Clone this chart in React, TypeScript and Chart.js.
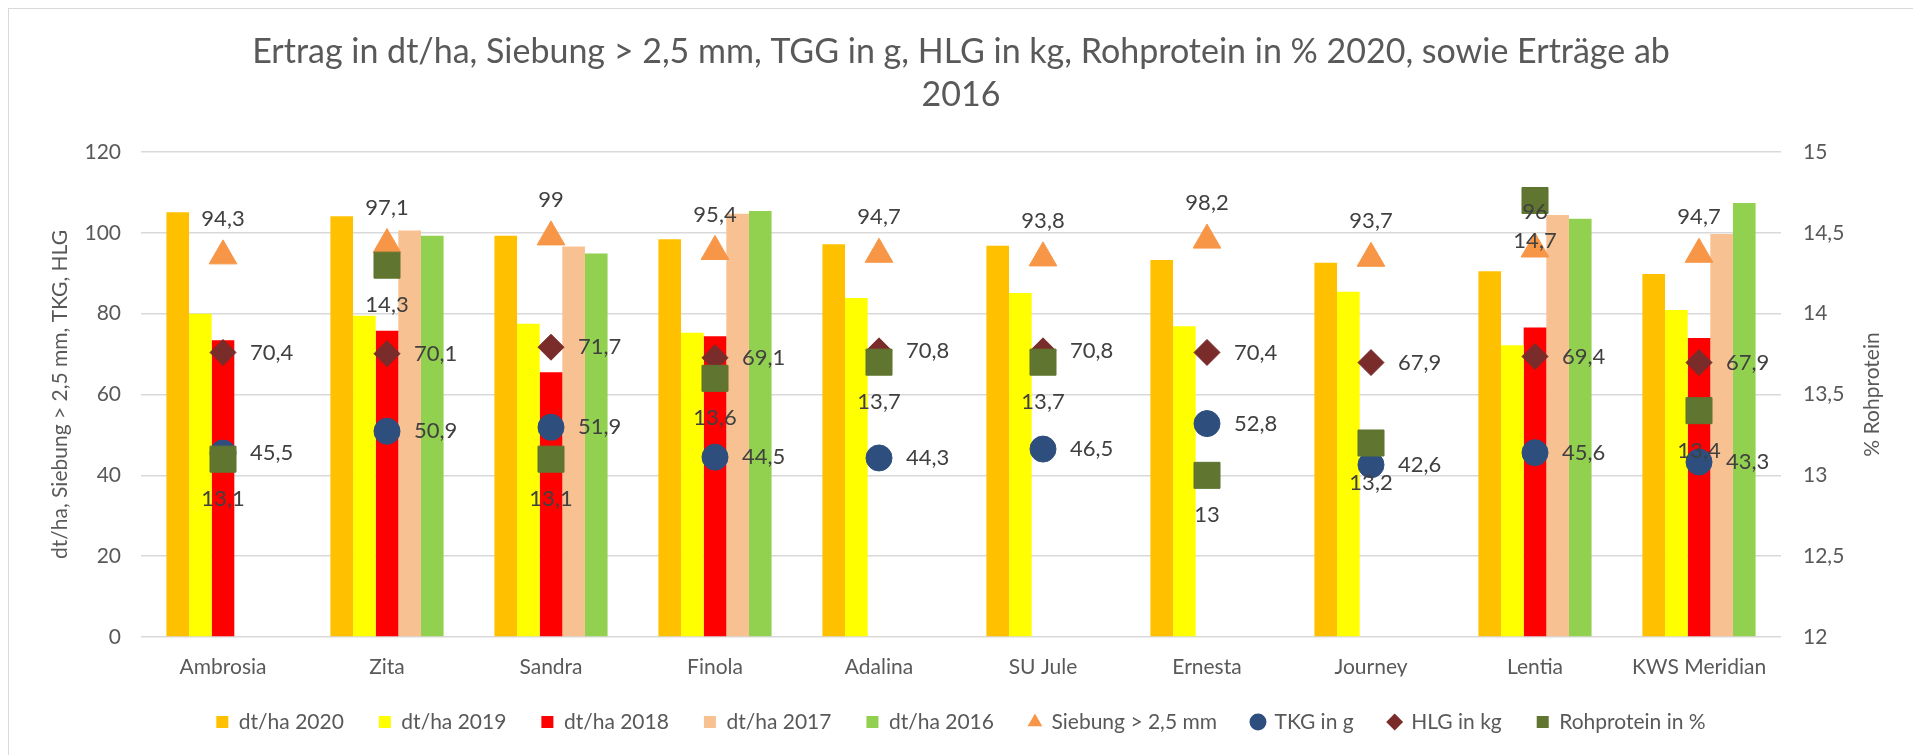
import React, { useEffect, useRef } from "react";
import { Chart, registerables } from "chart.js";

Chart.register(...registerables);

// ---------- data ----------
const categories = ["Ambrosia", "Zita", "Sandra", "Finola", "Adalina", "SU Jule", "Ernesta", "Journey", "Lentia", "KWS Meridian"];
const yield2020 = [105.1, 104.1, 99.3, 98.4, 97.2, 96.8, 93.3, 92.6, 90.5, 89.8];
const yield2019 = [80.0, 79.5, 77.5, 75.3, 83.9, 85.1, 76.9, 85.4, 72.2, 80.9];
const yield2018 = [73.4, 75.8, 65.5, 74.4, null, null, null, null, 76.6, 74.0];
const yield2017 = [null, 100.6, 96.6, 104.7, null, null, null, null, 104.4, 99.7];
const yield2016 = [null, 99.3, 94.9, 105.4, null, null, null, null, 103.5, 107.4];
const siebung = [94.3, 97.1, 99, 95.4, 94.7, 93.8, 98.2, 93.7, 96, 94.7];
const tkg = [45.5, 50.9, 51.9, 44.5, 44.3, 46.5, 52.8, 42.6, 45.6, 43.3];
const hlg = [70.4, 70.1, 71.7, 69.1, 70.8, 70.8, 70.4, 67.9, 69.4, 67.9];
const rohprotein = [13.1, 14.3, 13.1, 13.6, 13.7, 13.7, 13.0, 13.2, 14.7, 13.4];

const titleLines = ["Ertrag in dt/ha, Siebung > 2,5 mm, TGG in g, HLG in kg, Rohprotein in % 2020, sowie Erträge ab", "2016"];
const leftAxisTitle = "dt/ha, Siebung > 2,5 mm, TKG, HLG";
const rightAxisTitle = "% Rohprotein";
const seriesLabels = ["dt/ha 2020", "dt/ha 2019", "dt/ha 2018", "dt/ha 2017", "dt/ha 2016", "Siebung > 2,5 mm", "TKG in g", "HLG in kg", "Rohprotein in %"];

const colors = ["#FFC000", "#FFFF00", "#FF0000", "#F8C191", "#92D050", "#F79646", "#2E4E7E", "#7A2C2B", "#5F7530"];
const legendStyles = ["rect", "rect", "rect", "rect", "rect", "triangle", "circle", "rectRot", "rect"];
// where the value label sits relative to its marker
const labelPositions: Record<number, string> = { 5: "top", 6: "right", 7: "right", 8: "bottom" };

const W = 1904;
const H = 746;
const FONT = "Lato";
const TEXT = "#595959";

const fmt = (v: number) => String(v).replace(".", ",");

const valueLabelPlugin = {
  id: "valueLabels",
  afterDatasetsDraw(chart: any) {
    const ctx = chart.ctx;
    ctx.save();
    ctx.font = `22px ${FONT}`;
    ctx.fillStyle = "#404040";
    chart.data.datasets.forEach((ds: any, di: number) => {
      const pos = labelPositions[di];
      if (!pos) return;
      const meta = chart.getDatasetMeta(di);
      meta.data.forEach((el: any, i: number) => {
        const v = ds.data[i];
        if (v == null) return;
        const t = fmt(v);
        if (pos === "top") {
          ctx.textAlign = "center";
          ctx.textBaseline = "middle";
          ctx.fillText(t, el.x, el.y - 37);
        } else if (pos === "bottom") {
          ctx.textAlign = "center";
          ctx.textBaseline = "middle";
          ctx.fillText(t, el.x, el.y + 40);
        } else {
          ctx.textAlign = "left";
          ctx.textBaseline = "middle";
          ctx.fillText(t, el.x + 27, el.y);
        }
      });
    });
    ctx.restore();
  },
};

const axisTitlePlugin = {
  id: "axisTitles",
  afterDraw(chart: any) {
    const ctx = chart.ctx;
    const area = chart.chartArea;
    const cy = (area.top + area.bottom) / 2;
    ctx.save();
    ctx.font = `21px ${FONT}`;
    ctx.fillStyle = TEXT;
    ctx.textAlign = "center";
    ctx.textBaseline = "middle";
    ctx.translate(51, cy);
    ctx.rotate(-Math.PI / 2);
    ctx.fillText(leftAxisTitle, 0, 0);
    ctx.restore();
    ctx.save();
    ctx.font = `21px ${FONT}`;
    ctx.fillStyle = TEXT;
    ctx.textAlign = "center";
    ctx.textBaseline = "middle";
    ctx.translate(area.right + 91, cy);
    ctx.rotate(-Math.PI / 2);
    ctx.fillText(rightAxisTitle, 0, 0);
    ctx.restore();
  },
};

export default function App() {
  const ref = useRef<HTMLCanvasElement | null>(null);

  useEffect(() => {
    document.documentElement.style.overflow = "hidden";
    if (!ref.current) return;
    const barSeries = [yield2020, yield2019, yield2018, yield2017, yield2016];
    const barDatasets = barSeries.map((d, i) => ({
      type: "bar" as const,
      label: seriesLabels[i],
      data: d,
      backgroundColor: colors[i],
      borderWidth: 0,
      yAxisID: "y",
      order: 10,
      categoryPercentage: 0.69,
      barPercentage: 1.0,
    }));
    const pointDefs = [
      { data: siebung, style: "triangle", r: 16, axis: "y", order: 4 },
      { data: tkg, style: "circle", r: 13, axis: "y", order: 3 },
      { data: hlg, style: "rectRot", r: 13, axis: "y", order: 2 },
      { data: rohprotein, style: "rect", r: 18.4, axis: "y1", order: 1 },
    ];
    const pointDatasets = pointDefs.map((p, j) => {
      const i = j + 5;
      return {
        type: "line" as const,
        label: seriesLabels[i],
        data: p.data,
        showLine: false,
        backgroundColor: colors[i],
        borderColor: colors[i],
        pointBackgroundColor: colors[i],
        pointBorderColor: colors[i],
        pointBorderWidth: 1,
        pointStyle: p.style,
        pointRadius: p.r,
        pointHoverRadius: p.r,
        yAxisID: p.axis,
        order: p.order,
      };
    });

    const chart = new Chart(ref.current, {
      data: {
        labels: categories,
        datasets: [...barDatasets, ...pointDatasets] as any,
      },
      options: {
        animation: false,
        responsive: false,
        maintainAspectRatio: false,
        layout: { padding: { top: 0, bottom: 12.5, left: 0, right: 0 } },
        font: { family: FONT },
        plugins: {
          tooltip: { enabled: false },
          title: {
            display: true,
            text: titleLines,
            color: TEXT,
            font: { family: FONT, size: 34, weight: "normal", lineHeight: 43 / 34 },
            padding: { top: 21.5, bottom: 35.5 },
          },
          legend: {
            display: true,
            position: "bottom",
            labels: {
              usePointStyle: true,
              boxWidth: 12,
              boxHeight: 12,
              padding: 35,
              color: TEXT,
              font: { family: FONT, size: 21 },
              generateLabels: (c: any) =>
                c.data.datasets.map((ds: any, i: number) => ({
                  text: ds.label,
                  fillStyle: colors[i],
                  strokeStyle: colors[i],
                  lineWidth: 0,
                  pointStyle: legendStyles[i],
                  hidden: false,
                  datasetIndex: i,
                  fontColor: TEXT,
                })),
            },
          },
        },
        scales: {
          x: {
            type: "category",
            offset: true,
            grid: { display: false, drawTicks: false },
            border: { display: false },
            ticks: { color: TEXT, font: { family: FONT, size: 21 }, padding: 18, maxRotation: 0, autoSkip: false },
            afterFit: (s: any) => {
              s.height = 39.5;
            },
          },
          y: {
            type: "linear",
            position: "left",
            min: 0,
            max: 120,
            grid: { color: "#D9D9D9", lineWidth: 1.5, drawTicks: false },
            border: { display: false },
            ticks: { stepSize: 20, color: TEXT, font: { family: FONT, size: 21 }, padding: 20 },
            afterFit: (s: any) => {
              s.width = 132;
            },
          },
          y1: {
            type: "linear",
            position: "right",
            min: 12,
            max: 15,
            grid: { display: false, drawTicks: false },
            border: { display: false },
            ticks: {
              stepSize: 0.5,
              color: TEXT,
              font: { family: FONT, size: 21 },
              padding: 22,
              callback: (v: any) => fmt(Number(v)),
            },
            afterFit: (s: any) => {
              s.width = 132;
            },
          },
        },
      } as any,
      plugins: [valueLabelPlugin, axisTitlePlugin],
    });
    return () => chart.destroy();
  }, []);

  return (
    <div style={{ width: W, height: H, border: "1px solid #D9D9D9", background: "#FFFFFF" }}>
      <canvas ref={ref} width={W} height={H} style={{ display: "block", width: W, height: H }} />
    </div>
  );
}
